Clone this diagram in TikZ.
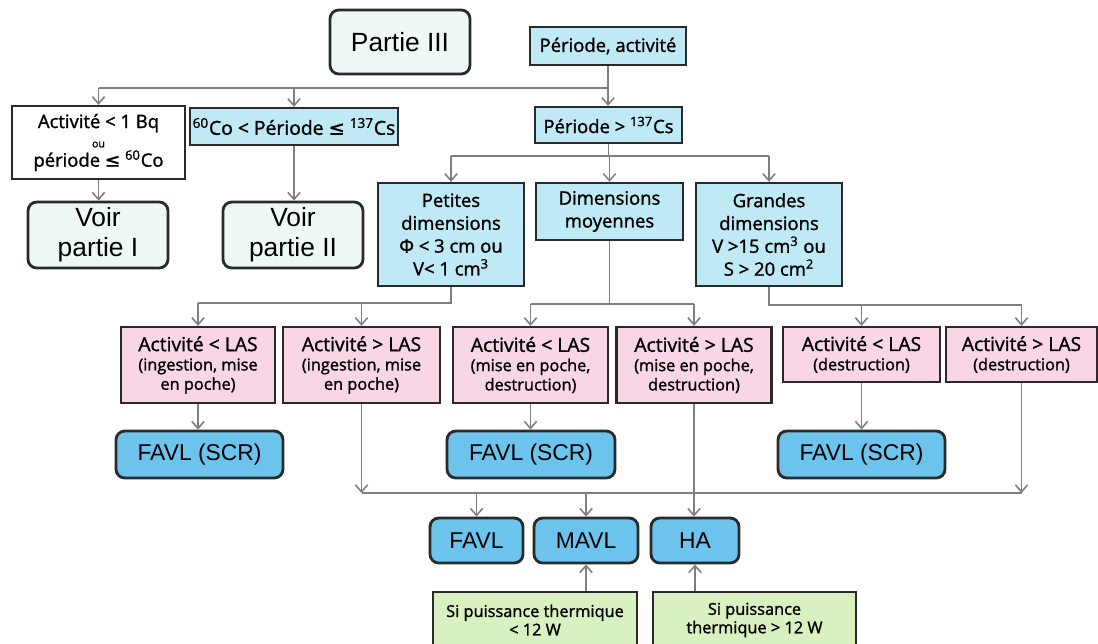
\documentclass[tikz,border=0pt]{standalone}
\usepackage{fontspec}
\setmainfont{Liberation Sans}
\newfontfamily\labfont[FakeBold=1.4]{Open Sans}
\newfontfamily\symfont[FakeBold=1.4]{DejaVu Sans}
\usetikzlibrary{arrows.meta}
\definecolor{lineGray}{HTML}{7F7F7F}
\definecolor{edgeDark}{HTML}{2A2A2A}
\definecolor{paleFill}{HTML}{EEF9F7}
\definecolor{skyFill}{HTML}{C0E9F6}
\definecolor{pinkFill}{HTML}{F8D6E5}
\definecolor{wasteFill}{HTML}{6CC3EC}
\definecolor{greenFill}{HTML}{D9F1C0}
\newcommand\myle{{\symfont ≤}}
\newcommand\hd[1]{{\fontsize{11}{13}\selectfont #1}}
\tikzset{
  sz/.style 2 args={minimum width=#1*0.02cm, minimum height=#2*0.02cm},
  boxbase/.style={draw=edgeDark, line width=1.3pt, inner sep=0pt, align=center},
  partbox/.style={boxbase, rounded corners=5pt, fill=paleFill, line width=1.6pt,
    font=\fontsize{15}{17}\selectfont},
  critbox/.style={boxbase, fill=skyFill, font=\labfont\fontsize{10.5}{13}\selectfont},
  lasbox/.style={boxbase, fill=pinkFill, font=\labfont\fontsize{9.3}{11}\selectfont},
  wastebox/.style={boxbase, rounded corners=5pt, fill=wasteFill, line width=1.6pt,
    font=\fontsize{13}{15}\selectfont},
  heatbox/.style={boxbase, fill=greenFill, font=\labfont\fontsize{9.3}{10.5}\selectfont},
  arrowed/.style={-{Straight Barb[length=4pt,width=7pt]}},
}
\begin{document}
\begin{tikzpicture}[x=0.02cm, y=-0.02cm]
  \path[use as bounding box, clip] (0,0) rectangle (1098,643);
  \fill[white] (0,0) rectangle (1098,643);
  \path
    (400,42) node[partbox, sz={140}{64}] (p3) {Partie III}
    (608,46) node[critbox, sz={156}{38}] (perAct) {Période, activité}
    (98.5,142.5) node[boxbase, fill=white, sz={173}{73},
      font=\labfont\fontsize{10.5}{10}\selectfont] (bq)
      {Activité < 1 Bq\\[1pt]{\fontsize{6}{7}\selectfont ou}\\[1pt]période \myle{} \textsuperscript{60}Co}
    (294,126.5) node[critbox, sz={208}{37}, font=\labfont\fontsize{11}{13}\selectfont] (coCs)
      {\textsuperscript{60}Co < Période \myle{} \textsuperscript{137}Cs}
    (608.5,125) node[critbox, sz={147}{36}] (perCs) {Période > \textsuperscript{137}Cs}
    (98,235) node[partbox, sz={140}{66}] (v1) {Voir\\partie I}
    (293,235) node[partbox, sz={140}{66}] (v2) {Voir\\partie II}
    (451,234.5) node[critbox, sz={146}{103}] (petites)
      {Petites\\dimensions\\Φ < 3 cm ou\\V< 1 cm\textsuperscript{3}}
    (609.5,211.5) node[critbox, sz={147}{57}] (moyen) {Dimensions\\moyennes}
    (769,234.5) node[critbox, sz={146}{103}] (grandes)
      {Grandes\\dimensions\\V >15 cm\textsuperscript{3} ou\\S > 20 cm\textsuperscript{2}}
    (198,365) node[lasbox, sz={154}{76}] (a1) {\hd{Activité < LAS}\\(ingestion, mise\\en poche)}
    (361.5,365) node[lasbox, sz={157}{76}] (a2) {\hd{Activité > LAS}\\(ingestion, mise\\en poche)}
    (530.5,365) node[lasbox, sz={155}{76}] (a3) {\hd{Activité < LAS}\\(mise en poche,\\destruction)}
    (694,365) node[lasbox, sz={155}{76}] (a4) {\hd{Activité > LAS}\\(mise en poche,\\destruction)}
    (861.5,354.5) node[lasbox, sz={157}{55}] (a5) {\hd{Activité < LAS}\\(destruction)}
    (1021.5,354.5) node[lasbox, sz={151}{55}] (a6) {\hd{Activité > LAS}\\(destruction)}
    (199.5,454.5) node[wastebox, sz={167}{47}] (s1) {FAVL (SCR)}
    (531,454.5) node[wastebox, sz={168}{47}] (s2) {FAVL (SCR)}
    (861.5,454.5) node[wastebox, sz={167}{47}] (s3) {FAVL (SCR)}
    (476.5,540.5) node[wastebox, sz={93}{45}] (favl) {FAVL}
    (586,540.5) node[wastebox, sz={104}{45}] (mavl) {MAVL}
    (695,540.5) node[wastebox, sz={88}{45}] (ha) {HA}
    (535,620) node[heatbox, sz={204}{56}] (g1) {Si puissance thermique\\< 12 W}
    (754.5,620) node[heatbox, sz={203}{56}] (g2) {Si puissance\\thermique > 12 W};
  % bus levels
  \coordinate (busA) at (0,88);
  \coordinate (busB) at (0,156);
  \coordinate (busP) at (0,303);
  \coordinate (busM) at (0,304);
  \coordinate (busG) at (0,305);
  \coordinate (busF) at (0,493);
  \begin{scope}[draw=lineGray, line width=0.9pt]
    \draw (bq.north |- busA) -- (perAct.south |- busA);
    \draw[arrowed] (perAct.south) -- (perAct.south |- perCs.north);
    \draw[arrowed] (bq.north |- busA) -- (bq.north);
    \draw[arrowed] (coCs.north |- busA) -- (coCs.north);
    \draw[arrowed] (bq.south) -- (bq.south |- v1.north);
    \draw[arrowed] (coCs.south) -- (coCs.south |- v2.north);
    \draw (perCs.south) -- (perCs.south |- busB);
    \draw (petites.north |- busB) -- (grandes.north |- busB);
    \draw[arrowed] (petites.north |- busB) -- (petites.north);
    \draw[arrowed] (moyen.north |- busB) -- (moyen.north);
    \draw[arrowed] (grandes.north |- busB) -- (grandes.north);
    \draw (petites.south) -- (petites.south |- busP) -- (a1.north |- busP);
    \draw[arrowed] (a1.north |- busP) -- (a1.north);
    \draw[arrowed] (a2.north |- busP) -- (a2.north);
    \draw (moyen.south) -- (moyen.south |- busM);
    \draw (a3.north |- busM) -- (a4.north |- busM);
    \draw[arrowed] (a3.north |- busM) -- (a3.north);
    \draw[arrowed] (a4.north |- busM) -- (a4.north);
    \draw (grandes.south) -- (grandes.south |- busG) -- (a6.north |- busG);
    \draw[arrowed] (a5.north |- busG) -- (a5.north);
    \draw[arrowed] (a6.north |- busG) -- (a6.north);
    \draw[arrowed] (a1.south) -- (a1.south |- s1.north);
    \draw[arrowed] (a3.south) -- (a3.south |- s2.north);
    \draw[arrowed] (a5.south) -- (a5.south |- s3.north);
    \draw (a2.south |- busF) -- (a6.south |- busF);
    \draw[arrowed] (a2.south) -- (a2.south |- busF);
    \draw[arrowed] (a6.south) -- (a6.south |- busF);
    \draw[arrowed] (favl.north |- busF) -- (favl.north);
    \draw[arrowed] (mavl.north |- busF) -- (mavl.north);
    \draw[arrowed] (a4.south) -- (a4.south |- ha.north);
    \draw[arrowed] (g1.north -| mavl.south) -- (mavl.south);
    \draw[arrowed] (g2.north -| ha.south) -- (ha.south);
  \end{scope}
\end{tikzpicture}
\end{document}
